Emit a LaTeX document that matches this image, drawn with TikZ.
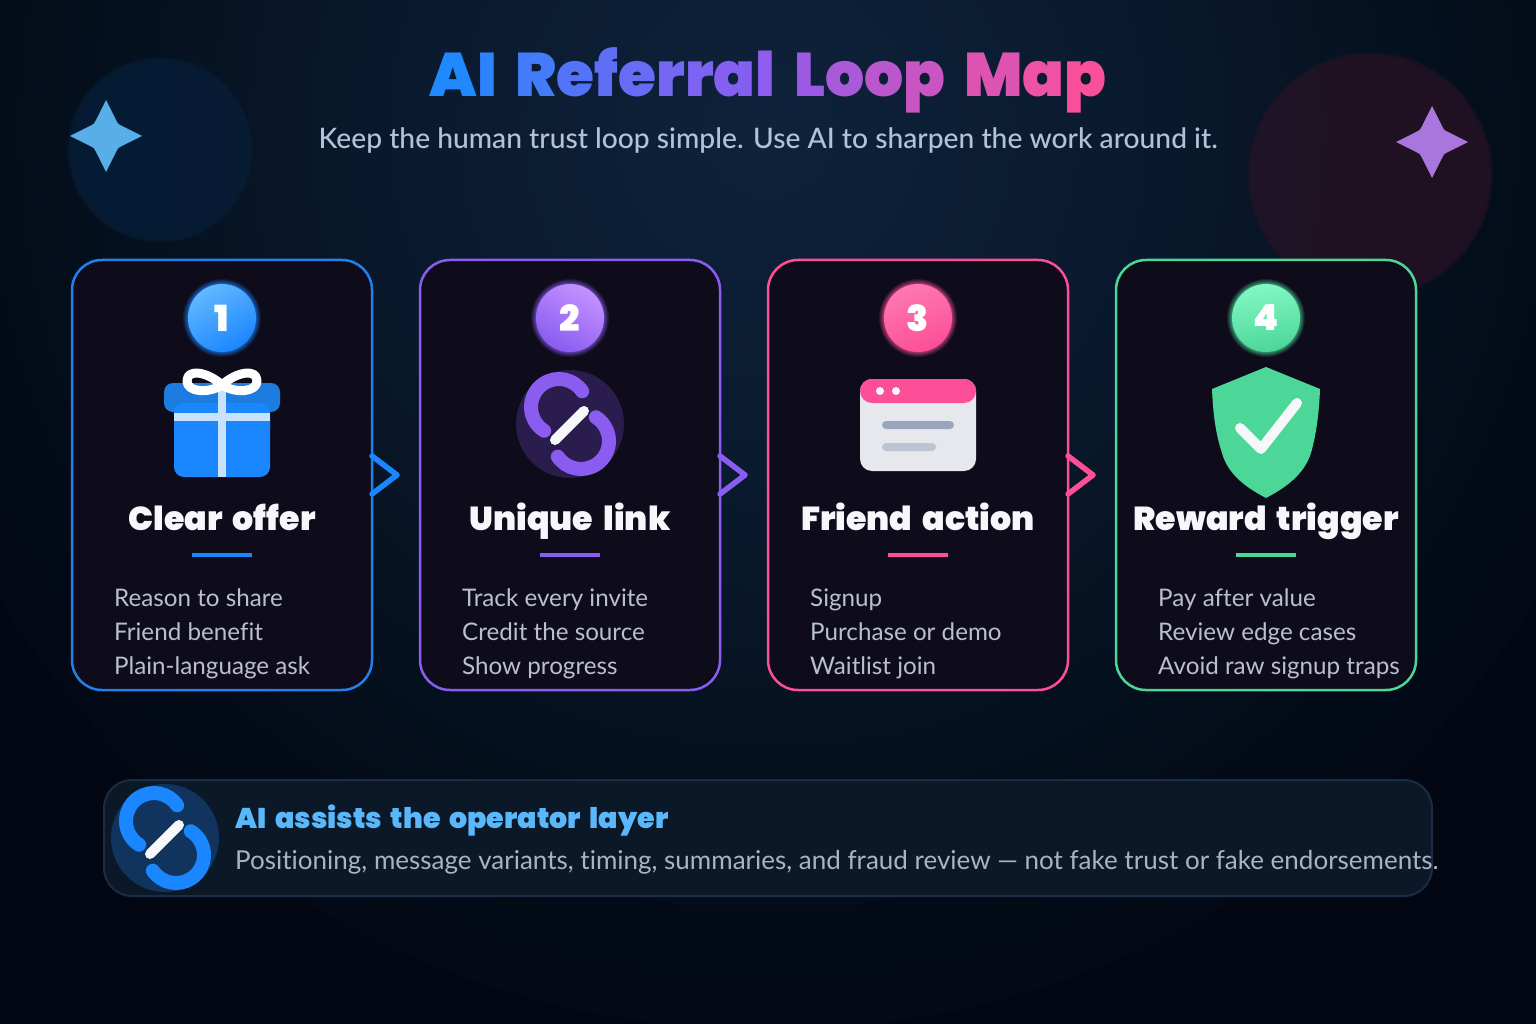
\documentclass[tikz,border=0pt]{standalone}
\usepackage{fontspec}
\setmainfont{Lato}[Ligatures=NoCommon]
\newfontfamily\hvy{Poppins Black}[WordSpace=1.8]
\newfontfamily\med{Lato Medium}[Ligatures=NoCommon]
\usetikzlibrary{calc}
\definecolor{bgO}{HTML}{020713}
\definecolor{bgA}{HTML}{0A1A2F}
\definecolor{bgM}{HTML}{05111F}
\definecolor{bgI}{HTML}{0E223B}
\definecolor{cardfill}{HTML}{0E0C1B}
\definecolor{cblue}{HTML}{1A86FF}
\definecolor{cblueline}{HTML}{2280E8}
\definecolor{cblueL}{HTML}{62B8FF}
\definecolor{cpurple}{HTML}{8A5CF0}
\definecolor{cpurpleL}{HTML}{C392FF}
\definecolor{cpink}{HTML}{FC4F97}
\definecolor{cpinkL}{HTML}{FF78B0}
\definecolor{cgreen}{HTML}{4CD698}
\definecolor{cgreenL}{HTML}{82F8C4}
\definecolor{lidblue}{HTML}{1C7CE0}
\definecolor{ribbon}{HTML}{C9E2FB}
\definecolor{nearwhite}{HTML}{F5F7FB}
\definecolor{subtxt}{HTML}{B4C2D8}
\definecolor{itemtxt}{HTML}{B9C0CC}
\definecolor{panelfill}{HTML}{0B1828}
\definecolor{panelline}{HTML}{1C2C44}
\definecolor{headblue}{HTML}{5AB8FA}
\definecolor{desctxt}{HTML}{A8B4C4}
\definecolor{winbody}{HTML}{E6E8EE}
\definecolor{winlineA}{HTML}{9AA5BD}
\definecolor{winlineB}{HTML}{BCC4D4}
\definecolor{linkbgP}{HTML}{2B1C4E}
\definecolor{linkbgB}{HTML}{10345E}
\definecolor{orbL}{HTML}{081E36}
\definecolor{orbR}{HTML}{221425}
\definecolor{starL}{HTML}{5AAEE8}
\definecolor{starR}{HTML}{A876DC}
\definecolor{gA}{RGB}{26,140,255}
\definecolor{gB}{RGB}{140,92,240}
\definecolor{gC}{RGB}{255,79,152}
\pgfdeclareradialshading{bgglow}{\pgfpoint{0bp}{0bp}}{color(0bp)=(bgI);color(9.7bp)=(bgA);color(17.5bp)=(bgM);color(22bp)=(bgO!60!bgM);color(28bp)=(bgO);color(50bp)=(bgO)}
\newcommand{\gla}[2]{\textcolor{gB!#1!gA}{#2}}
\newcommand{\glb}[2]{\textcolor{gC!#1!gB}{#2}}
\newcommand{\softdisc}[4]{\foreach \i in {0,...,7}{\fill[#4,opacity=.3] (#1,#2) circle ({#3+3-0.8*\i});}}
\newcommand{\halo}[4]{\foreach \d in {.3,.6,1,1.4,1.9,2.5,3.2,4,5}{\fill[#4,opacity=.12] (#1,#2) circle ({#3+\d});}}
\newcommand{\sparkle}[4]{%
 \fill[#4] (#1,#2-#3) -- (#1+10.5,#2-15) .. controls (#1+12,#2-12) .. (#1+15,#2-10.5) -- (#1+#3,#2) -- (#1+15,#2+10.5) .. controls (#1+12,#2+12) .. (#1+10.5,#2+15) -- (#1,#2+#3) -- (#1-10.5,#2+15) .. controls (#1-12,#2+12) .. (#1-15,#2+10.5) -- (#1-#3,#2) -- (#1-15,#2-10.5) .. controls (#1-12,#2-12) .. (#1-10.5,#2-15) -- cycle;}
\newcommand{\linkicon}[4]{% x y, disc colour, arc colour
 \fill[#3] (#1,#2) circle (54);
 \draw[#4,line width=14,line cap=round] ($(#1,#2)+(-11,-17)+(-34:28)$) arc[start angle=-34,end angle=-238,radius=28];
 \draw[#4,line width=14,line cap=round] ($(#1,#2)+(11,17)+(-214:28)$) arc[start angle=-214,end angle=-418,radius=28];
 \draw[nearwhite,line width=10,line cap=round] (#1-15,#2+16) -- (#1+14,#2-13);}
\tikzset{
 cardbox/.style={draw=#1,line width=2.5,fill=cardfill,rounded corners=30,minimum width=300,minimum height=430,inner sep=0,outer sep=0},
 badge/.style={circle,minimum size=68,inner sep=0,text=white,font=\hvy\fontsize{36}{36}\selectfont},
 cardtitle/.style={text=nearwhite,font=\hvy\fontsize{33.2}{33.2}\selectfont,inner sep=0,anchor=base},
 itemtext/.style={text=itemtxt,font=\fontsize{24.2}{24.2}\selectfont,inner sep=0,anchor=base west},
 chev/.style={draw=#1,line width=5.5,line cap=round,line join=round},
 bar/.style={fill=#1,draw=none},
}
\begin{document}
\begin{tikzpicture}[x=1pt,y=-1pt]
\useasboundingbox (0,0) rectangle (1536,1024);
\fill[bgO] (0,0) rectangle (1536,1024);
\begin{scope}
\clip (0,0) rectangle (1536,1024);
\shade[shading=bgglow] (768,130) circle (900);
\softdisc{160}{150}{90}{orbL}
\softdisc{1370}{175}{120}{orbR}
\end{scope}
\sparkle{106}{136}{36}{starL}
\sparkle{1432}{142}{36}{starR}
% title
\node[inner sep=0,anchor=base,font=\hvy\fontsize{61.5}{61.5}\selectfont] (title) at (768,97) {\gla{6}{A}\gla{18}{I} \gla{36}{R}\gla{50}{e}\gla{60}{f}\gla{68}{e}\gla{78}{r}\gla{86}{r}\gla{94}{a}\glb{2}{l} \glb{14}{L}\glb{26}{o}\glb{40}{o}\glb{52}{p} \glb{70}{M}\glb{86}{a}\glb{96}{p}};
\node[inner sep=0,anchor=base,text=subtxt,font=\med\fontsize{28.2}{28.2}\selectfont] (subtitle) at (768,149) {Keep the human trust loop simple. Use AI to sharpen the work around it.};
% cards
\node[cardbox=cblueline] (c1) at (222,475) {};
\node[cardbox=cpurple] (c2) at (570,475) {};
\node[cardbox=cpink] (c3) at (918,475) {};
\node[cardbox=cgreen] (c4) at (1266,475) {};
% chevrons
\draw[chev=cblue] ([shift={(0,-19)}]c1.east) -- ([shift={(25,0)}]c1.east) -- ([shift={(0,19)}]c1.east);
\draw[chev=cpurple] ([shift={(0,-19)}]c2.east) -- ([shift={(25,0)}]c2.east) -- ([shift={(0,19)}]c2.east);
\draw[chev=cpink] ([shift={(0,-19)}]c3.east) -- ([shift={(25,0)}]c3.east) -- ([shift={(0,19)}]c3.east);
% badges
\halo{222}{318}{34}{cblue}
\halo{570}{318}{34}{cpurple}
\halo{918}{318}{34}{cpink}
\halo{1266}{318}{34}{cgreen}
\node[badge,left color=cblueL,right color=cblue,shading angle=30] (b1) at (222,318) {1};
\node[badge,left color=cpurpleL,right color=cpurple,shading angle=-30] (b2) at (570,318) {2};
\node[badge,left color=cpinkL,right color=cpink,shading angle=20] (b3) at (918,318) {3};
\node[badge,left color=cgreenL,right color=cgreen,shading angle=10] (b4) at (1266,318) {4};
% gift
\fill[lidblue,rounded corners=9] (164,383) rectangle (280,412);
\fill[cblue,rounded corners=10] (174,403) rectangle (270,477);
\fill[ribbon] (174,413) rectangle (270,421);
\fill[ribbon] (218,386) rectangle (226,477);
\draw[white,line width=9,line join=round] (222,385) .. controls (208,372) and (187,368) .. (187,381) .. controls (187,392) and (208,394) .. (222,385);
\draw[white,line width=9,line join=round] (222,385) .. controls (236,372) and (257,368) .. (257,381) .. controls (257,392) and (236,394) .. (222,385);
% link
\linkicon{570}{424}{linkbgP}{cpurple}
% window
\fill[winbody,rounded corners=12] (860,379) rectangle (976,471);
\fill[cpink,rounded corners=12] (860,379) rectangle (976,403);
\fill[nearwhite] (880,391) circle (4) (896,391) circle (4);
\fill[winlineA,rounded corners=4] (882,421) rectangle (954,429);
\fill[winlineB,rounded corners=4] (882,443) rectangle (936,451);
% shield
\fill[cgreen] (1266,367) -- (1320,389) .. controls (1319,415) and (1316,435) .. (1311,453) .. controls (1304,475) and (1285,488) .. (1266,498) .. controls (1247,488) and (1228,475) .. (1222,453) .. controls (1216,435) and (1213,415) .. (1212,389) -- cycle;
\draw[nearwhite,line width=10,line cap=round,line join=round] (1240,428) -- (1261,449) -- (1297,403);
% titles
\node[cardtitle] (t1) at (222,530) {Clear offer};
\node[cardtitle] (t2) at (570,530) {Unique link};
\node[cardtitle] (t3) at (918,530) {Friend action};
\node[cardtitle] (t4) at (1266,530) {Reward trigger};
% bars
\fill[bar=cblue] (192,553) rectangle (252,557);
\fill[bar=cpurple] (540,553) rectangle (600,557);
\fill[bar=cpink] (888,553) rectangle (948,557);
\fill[bar=cgreen] (1236,553) rectangle (1296,557);
% items
\node[itemtext] (i11) at (114,606) {Reason to share};
\node[itemtext] (i12) at (114,640) {Friend benefit};
\node[itemtext] (i13) at (114,674) {Plain-language ask};
\node[itemtext] (i21) at (462,606) {Track every invite};
\node[itemtext] (i22) at (462,640) {Credit the source};
\node[itemtext] (i23) at (462,674) {Show progress};
\node[itemtext] (i31) at (810,606) {Signup};
\node[itemtext] (i32) at (810,640) {Purchase or demo};
\node[itemtext] (i33) at (810,674) {Waitlist join};
\node[itemtext] (i41) at (1158,606) {Pay after value};
\node[itemtext] (i42) at (1158,640) {Review edge cases};
\node[itemtext] (i43) at (1158,674) {Avoid raw signup traps};
% panel
\node[draw=panelline,line width=2,fill=panelfill,rounded corners=28,minimum width=1328,minimum height=116,inner sep=0,outer sep=0] (panel) at (768,838) {};
\linkicon{165}{838}{linkbgB}{cblue}
\node[inner sep=0,anchor=base west,text=headblue,font=\hvy\fontsize{28.5}{28.5}\selectfont] (phead) at (235,828) {AI assists the operator layer};
\node[inner sep=0,anchor=base west,text=desctxt,font=\fontsize{26}{26}\selectfont] (pdesc) at (235,869) {Positioning, message variants, timing, summaries, and fraud review — not fake trust or fake endorsements.};
\end{tikzpicture}
\end{document}
